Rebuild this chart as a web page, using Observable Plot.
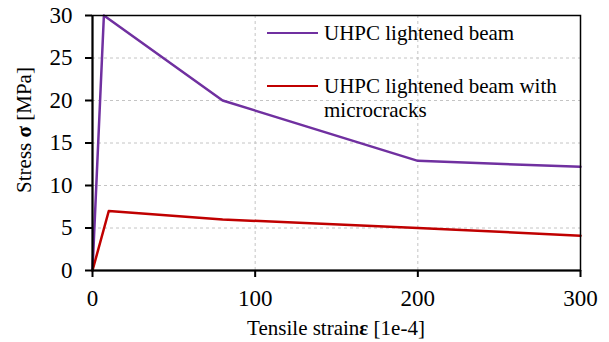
<!DOCTYPE html>
<html><head><meta charset="utf-8">
<script src="https://cdn.jsdelivr.net/npm/d3@7"></script>
<script src="https://cdn.jsdelivr.net/npm/@observablehq/plot@0.6"></script>
<style>
body{margin:0;background:#fff;}
#wrap{position:relative;width:609px;height:342px;font-family:"Liberation Serif";color:#000;}
.ov{position:absolute;white-space:nowrap;font-family:"Liberation Serif";line-height:1;}
#ylab{left:24px;top:130px;font-size:21px;transform:translate(-50%,-50%) rotate(-90deg);}
#xlab{left:336px;top:328px;font-size:21px;transform:translate(-50%,-50%);}
.leg{position:absolute;left:267px;font-size:21px;line-height:24px;font-family:"Liberation Serif";}
.leg .sw{position:absolute;left:0;width:51px;height:0;border-top:2.5px solid;}
.leg .tx{position:absolute;left:57px;top:0;white-space:nowrap;}
</style></head><body><div id="wrap"></div>
<script>
const seriesNames = ["UHPC lightened beam", "UHPC lightened beam with microcracks"];
const seriesColors = ["#7030A0", "#C00000"];
const strainA = [0, 7, 80, 200, 300];
const stressA = [0, 30, 20, 12.9, 12.2];
const strainB = [0, 10, 80, 200, 300];
const stressB = [0, 7, 6, 5, 4.1];
const xTicks = [0, 100, 200, 300];
const yTicks = [0, 5, 10, 15, 20, 25, 30];
const xGrid = [100, 200];
const yGrid = [5, 10, 15, 20, 25];
const xLabel = "Tensile strain";
const yLabel = "Stress ";

const data = [
  ...strainA.map((s, i) => ({series: seriesNames[0], strain: s, stress: stressA[i]})),
  ...strainB.map((s, i) => ({series: seriesNames[1], strain: s, stress: stressB[i]}))
];

const plot = Plot.plot({
  width: 609, height: 342,
  marginLeft: 92, marginRight: 29, marginTop: 15, marginBottom: 72,
  style: {fontFamily: "Liberation Serif", fontSize: "23px", color: "#000", background: "#fff", overflow: "visible"},
  x: {domain: [0, 300]},
  y: {domain: [0, 30]},
  color: {domain: seriesNames, range: seriesColors},
  marks: [
    Plot.gridY(yGrid, {stroke: "#c4c4c4", strokeOpacity: 1, strokeDasharray: "3,3", strokeWidth: 1}),
    Plot.gridX(xGrid, {stroke: "#c4c4c4", strokeOpacity: 1, strokeDasharray: "3,3", strokeWidth: 1}),
    Plot.line(data, {x: "strain", y: "stress", z: "series", stroke: "series", strokeWidth: 2.5}),
    Plot.axisY(yTicks, {tickSize: 7, tickPadding: 13, label: null, strokeWidth: 2, fontSize: 23}),
    Plot.axisX(xTicks, {tickSize: 7, tickPadding: 12, label: null, strokeWidth: 2, fontSize: 23}),
    Plot.frame({stroke: "#000", strokeWidth: 1.5}),
    Plot.ruleX([0], {stroke: "#000", strokeWidth: 2}),
    Plot.ruleY([0], {stroke: "#000", strokeWidth: 2})
  ]
});

const wrap = document.getElementById("wrap");
wrap.appendChild(plot);

const yl = document.createElement("div");
yl.className = "ov"; yl.id = "ylab";
yl.innerHTML = yLabel + "<b>σ</b> [MPa]";
wrap.appendChild(yl);

const xl = document.createElement("div");
xl.className = "ov"; xl.id = "xlab";
xl.innerHTML = xLabel + "<b>ε</b> [1e-4]";
wrap.appendChild(xl);

const legTops = [21, 74];
seriesNames.forEach((name, i) => {
  const g = document.createElement("div");
  g.className = "leg";
  g.style.top = legTops[i] + "px";
  const sw = document.createElement("div");
  sw.className = "sw";
  sw.style.top = "11px";
  sw.style.borderColor = seriesColors[i];
  g.appendChild(sw);
  const tx = document.createElement("div");
  tx.className = "tx";
  tx.innerHTML = i === 1 ? "UHPC lightened beam with<br>microcracks" : name;
  g.appendChild(tx);
  wrap.appendChild(g);
});
</script>
</body></html>
